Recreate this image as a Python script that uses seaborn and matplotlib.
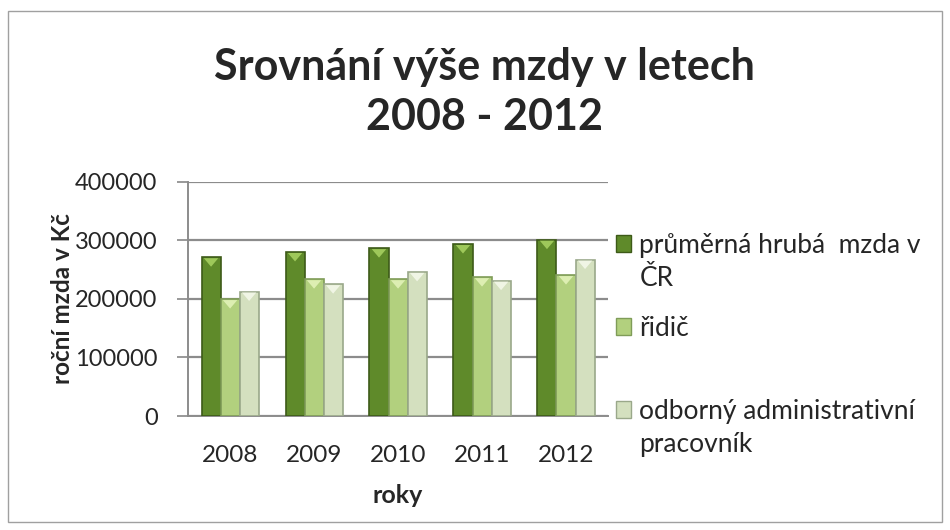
import matplotlib
matplotlib.use("Agg")
import matplotlib.pyplot as plt
import seaborn as sns
import pandas as pd
import numpy as np
from matplotlib.patches import Patch, Rectangle, Polygon
from matplotlib.transforms import IdentityTransform

years = ["2008", "2009", "2010", "2011", "2012"]
series_names = ["průměrná hrubá  mzda v ČR", "řidič", "odborný administrativní pracovník"]
legend_first = ["průměrná hrubá  mzda v", "řidič", "odborný administrativní"]
legend_second = ["ČR", "", "pracovník"]
prumerna = [271000, 280000, 286500, 293500, 301000]
ridic = [199500, 233500, 233500, 237000, 240500]
administrativni = [212500, 225000, 246000, 231000, 267000]
yticks = [0, 100000, 200000, 300000, 400000]

colors = ["#5f8a2a", "#b2d07e", "#d4e0bf"]
edges = ["#3d5a18", "#7f9c58", "#9aa88a"]
highlights = ["#a6d060", "#e2f2b8", "#f4f8ea"]

rows = []
for name, vals in zip(series_names, [prumerna, ridic, administrativni]):
    for y, v in zip(years, vals):
        rows.append({"rok": y, "serie": name, "mzda": v})
df = pd.DataFrame(rows)

sns.set_theme(style="white")
plt.rcParams["font.family"] = ["Lato", "DejaVu Sans"]

fig = plt.figure(figsize=(9.5, 5.3), dpi=100)
ax = fig.add_axes([0.198, 0.215, 0.442, 0.442])

sns.barplot(data=df, x="rok", y="mzda", hue="serie", hue_order=series_names,
            palette=colors, width=0.68, ax=ax, legend=False, saturation=1)

ax.set_ylim(0, 400000)
for i, cont in enumerate(ax.containers):
    for p in cont.patches:
        p.set_edgecolor(edges[i])
        p.set_linewidth(1.2)
        p.set_zorder(3)
        x0, w, h = p.get_x(), p.get_width(), p.get_height()
        d = 16000
        tri = Polygon([(x0 + w * 0.12, h - 1500), (x0 + w * 0.88, h - 1500), (x0 + w / 2, h - d)],
                      closed=True, facecolor=highlights[i], edgecolor="none", zorder=4, alpha=0.9)
        ax.add_patch(tri)

ax.set_yticks(yticks)
ax.set_yticklabels([str(t) for t in yticks], fontsize=17)
ax.set_xlim(-0.5, 4.5)
ax.tick_params(axis="x", which="major", length=0, labelsize=17.5, pad=21)
ax.set_xticks(np.arange(-0.5, 5.0, 1.0), minor=True)
ax.tick_params(axis="x", which="minor", length=8, color="#888888", width=1.2, direction="out")
ax.tick_params(axis="y", length=8, color="#888888", width=1.2, direction="out", left=True, pad=14)
ax.grid(axis="y", color="#8c8c8c", linewidth=1.6, zorder=0)
ax.set_axisbelow(True)
for s in ["top", "right"]:
    ax.spines[s].set_visible(False)
for s in ["left", "bottom"]:
    ax.spines[s].set_color("#8c8c8c")
    ax.spines[s].set_linewidth(1.4)

ax.set_xlabel("roky", fontsize=18, fontweight="bold", labelpad=13)
ax.set_ylabel("roční mzda v Kč", fontsize=17.5, fontweight="bold")
ax.yaxis.set_label_coords(-0.272, 0.5)

fig.text(0.51, 0.826, "Srovnání výše mzdy v letech\n2008 - 2012", ha="center", va="center",
         fontsize=31, fontweight="bold", linespacing=1.3)

handles = [Patch(facecolor=c, edgecolor=e) for c, e in zip(colors, edges)]
leg = fig.legend(handles, legend_first, loc="upper left", bbox_to_anchor=(0.648, 0.561),
                 frameon=False, fontsize=19, handlelength=0.6, handleheight=0.6,
                 handletextpad=0.3, labelspacing=2.2, borderpad=0, borderaxespad=0)

fig.canvas.draw()
renderer = fig.canvas.get_renderer()
for t, extra in zip(leg.get_texts(), legend_second):
    if extra:
        bb = t.get_window_extent(renderer)
        fig.text(bb.x0, bb.y0 - 33, extra, transform=IdentityTransform(),
                 fontsize=19, ha="left", va="bottom")

fig.patches.append(Rectangle((0.008, 0.015), 0.984, 0.965, transform=fig.transFigure,
                             fill=False, edgecolor="#a0a0a0", linewidth=1.0))

fig.savefig("out.png", dpi=100)
